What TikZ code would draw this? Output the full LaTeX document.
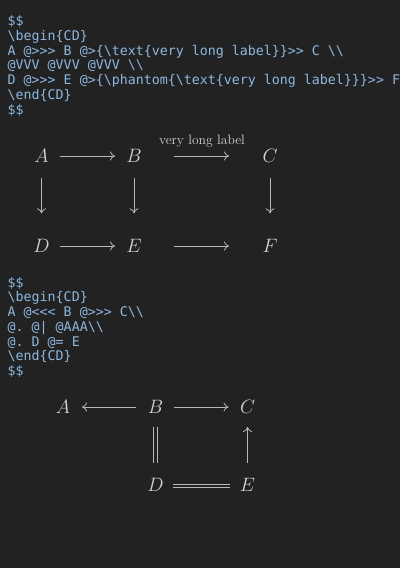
\RequirePackage{fix-cm}
\documentclass[tikz,border=0pt]{standalone}
\usepackage{fontspec}
\setmonofont{DejaVu Sans Mono}
\usetikzlibrary{arrows.meta}

\definecolor{bgclr}{HTML}{222222}
\definecolor{codeclr}{HTML}{8DB7DF}
\definecolor{txtclr}{HTML}{D2D2D2}
\definecolor{lineclr}{HTML}{B8B8B8}

\tikzstyle{obj} = [text=txtclr, inner sep=0pt, font=\fontsize{19.36}{23}\selectfont]
\tikzstyle{lbl} = [text=txtclr, inner sep=0pt, font=\fontsize{13.6}{16}\selectfont]
\tikzstyle{code} = [text=codeclr, inner sep=0pt, align=left, anchor=base west, font=\ttfamily\fontsize{13.3}{14.75}\selectfont]
\tikzstyle{cdto} = [draw=lineclr, line width=0.8pt, -{Computer Modern Rightarrow[length=5pt, width=9pt]}]
\tikzstyle{cdeq} = [draw=lineclr, line width=0.8pt, double=bgclr]

\begin{document}
\begin{tikzpicture}[x=1pt, y=-1pt]
\useasboundingbox (0,0) rectangle (400,568);
\fill[bgclr] (0,0) rectangle (400,568);

% first source block (anchored at its last line)
\node[code] (src1) at (7.5,114) {\$\$\\
\textbackslash begin\{CD\}\\
A @>>> B @>\{\textbackslash text\{very long label\}\}>> C \textbackslash\textbackslash\\
@VVV @VVV @VVV \textbackslash\textbackslash\\
D @>>> E @>\{\textbackslash phantom\{\textbackslash text\{very long label\}\}\}>> F\\
\textbackslash end\{CD\}\\
\$\$};

% first diagram
\node[obj] (A1) at (41.5,156) {$A$};
\node[obj] (B1) at (134,156) {$B$};
\node[obj] (C1) at (270,156) {$C$};
\node[obj] (D1) at (41.5,246) {$D$};
\node[obj] (E1) at (134,246) {$E$};
\node[obj] (F1) at (270,246) {$F$};

\draw[cdto, shorten <=18.5pt, shorten >=19pt] (A1.center) -- (B1.center);
\draw[cdto, shorten <=40pt, shorten >=41pt] (B1.center) -- node[lbl, midway, anchor=base, yshift=12pt] {very long label} (C1.center);
\draw[cdto, shorten <=18.5pt, shorten >=19pt] (D1.center) -- (E1.center);
\draw[cdto, shorten <=40pt, shorten >=41pt] (E1.center) -- (F1.center);
\draw[cdto, shorten <=21.7pt, shorten >=32.7pt] (A1.center) -- (D1.center);
\draw[cdto, shorten <=21.7pt, shorten >=32.7pt] (B1.center) -- (E1.center);
\draw[cdto, shorten <=21.7pt, shorten >=32.7pt] (C1.center) -- (F1.center);

% second source block
\node[code] (src2) at (7.5,375.5) {\$\$\\
\textbackslash begin\{CD\}\\
A @<<< B @>>> C\textbackslash\textbackslash\\
@. @| @AAA\textbackslash\textbackslash\\
@. D @= E\\
\textbackslash end\{CD\}\\
\$\$};

% second diagram
\node[obj] (A2) at (63,407) {$A$};
\node[obj] (B2) at (155.5,407) {$B$};
\node[obj] (C2) at (247.5,407) {$C$};
\node[obj] (D2) at (155.5,484.5) {$D$};
\node[obj] (E2) at (247.5,484.5) {$E$};

\draw[cdto, shorten <=19.5pt, shorten >=19pt] (B2.center) -- (A2.center);
\draw[cdto, shorten <=18.5pt, shorten >=19pt] (B2.center) -- (C2.center);
\draw[cdeq, double distance=3.2pt, shorten <=20pt, shorten >=21.5pt] (B2.center) -- (D2.center);
\draw[cdto, shorten <=21.5pt, shorten >=20pt] (E2.center) -- (C2.center);
\draw[cdeq, double distance=2.2pt, shorten <=17.5pt, shorten >=17.5pt] ([yshift=-1.5pt]D2.center) -- ([yshift=-1.5pt]E2.center);
\end{tikzpicture}
\end{document}
